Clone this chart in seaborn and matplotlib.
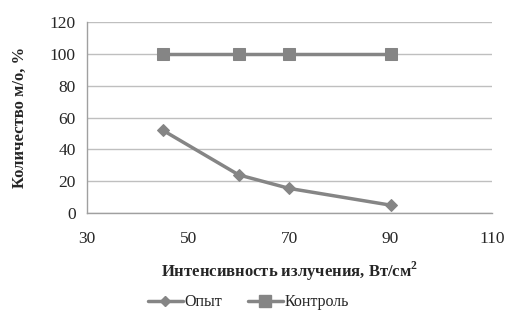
import matplotlib
matplotlib.use("Agg")
import matplotlib.pyplot as plt
import seaborn as sns
import pandas as pd
from matplotlib.lines import Line2D

# данные
intensity = [45, 60, 70, 90]
opyt = [52, 24, 15.5, 5]
kontrol = [100, 100, 100, 100]
series_names = ["Опыт", "Контроль"]

df = pd.DataFrame({
    "x": intensity * 2,
    "y": opyt + kontrol,
    "series": [series_names[0]] * 4 + [series_names[1]] * 4,
})

sns.set_style("white")
plt.rcParams['font.family'] = ['Liberation Serif', 'DejaVu Serif']

fig = plt.figure(figsize=(5.07, 3.2), dpi=100)
ax = fig.add_axes([0.1716, 0.334, 0.7984, 0.597])

gray = "#858585"
sns.lineplot(data=df, x="x", y="y", hue="series", style="series",
             palette=[gray, gray], markers={"Опыт": "D", "Контроль": "s"},
             dashes=False, markersize=7, linewidth=2.5,
             markeredgecolor=gray, ax=ax, legend=False)
# маркеры ромба чуть меньше
for line in ax.lines:
    if line.get_marker() == "D":
        line.set_markersize(6)
    else:
        line.set_markersize(9)

ax.set_xlim(30, 110)
ax.set_ylim(0, 120)
ax.set_xticks(range(30, 111, 20))
ax.set_yticks(range(0, 121, 20))
ax.yaxis.grid(True, color="#bfbfbf", linewidth=1)
ax.set_axisbelow(True)
for s in ["top", "right"]:
    ax.spines[s].set_visible(False)
for s in ["left", "bottom"]:
    ax.spines[s].set_color("#a0a0a0")
    ax.spines[s].set_linewidth(1)
ax.tick_params(axis="both", length=0, labelsize=12.5, pad=8)
ax.tick_params(axis="x", pad=13)

ax.set_xlabel("Интенсивность излучения, Вт/см$^\\mathregular{2}$", fontsize=12,
              fontweight="bold", labelpad=9)
ax.set_ylabel("Количество м/о, %", fontsize=12, fontweight="bold", labelpad=16)

handles = [
    Line2D([], [], color=gray, linewidth=2.5, marker="D", markersize=5),
    Line2D([], [], color=gray, linewidth=2.5, marker="s", markersize=8),
]
fig.legend(handles, series_names, loc="center", bbox_to_anchor=(0.49, 0.055),
           ncol=2, frameon=False, fontsize=11.5, handlelength=2.2,
           columnspacing=1.6, handletextpad=0.1)

fig.savefig("out.png", dpi=100)
